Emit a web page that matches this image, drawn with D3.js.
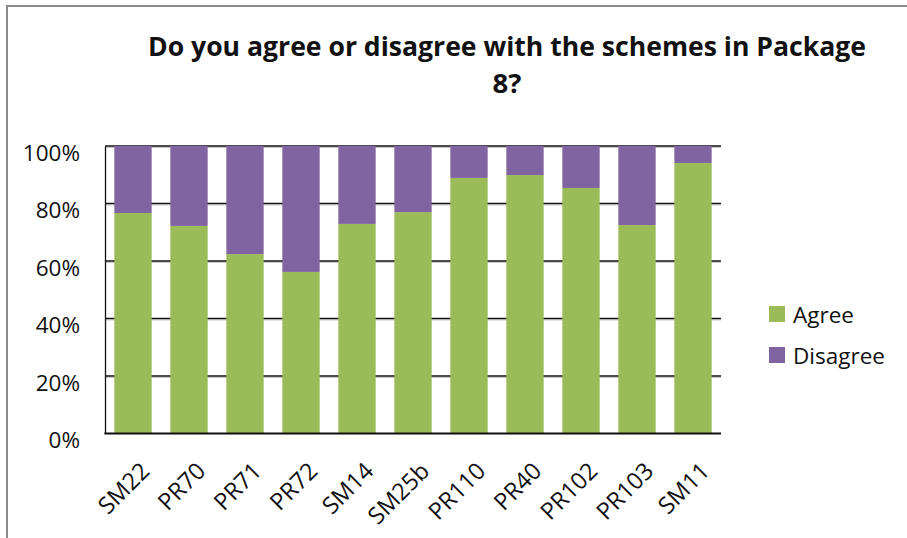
<!DOCTYPE html>
<html>
<head>
<meta charset="utf-8">
<script src="https://cdn.jsdelivr.net/npm/d3@7"></script>
<style>
  html, body { margin: 0; padding: 0; background: #fff; }
  svg { display: block; font-family: "Open Sans", "Noto Sans", sans-serif; }
</style>
</head>
<body>
<svg id="chart" width="907" height="538"></svg>
<script>
// Schemes in Package 8 and the share of respondents agreeing / disagreeing
const schemes   = ["SM22", "PR70", "PR71", "PR72", "SM14", "SM25b", "PR110", "PR40", "PR102", "PR103", "SM11"];
const agree     = [76.7, 72.2, 62.4, 56.2, 72.9, 77.0, 88.9, 89.9, 85.4, 72.5, 94.1];
const disagree  = [23.3, 27.8, 37.6, 43.8, 27.1, 23.0, 11.1, 10.1, 14.6, 27.5, 5.9];
const seriesNames = ["Agree", "Disagree"];
const yTicks    = [0, 20, 40, 60, 80, 100];
const titleLines = ["Do you agree or disagree with the schemes in Package", "8?"];

const colors = { Agree: "#9BBB59", Disagree: "#8064A2" };

const svg = d3.select("#chart");

// outer chart frame (left and top edges visible)
svg.append("path")
  .attr("d", "M7,545V6H915")
  .attr("fill", "none")
  .attr("stroke", "#8a8a8a")
  .attr("stroke-width", 2);

const plot = { left: 105, right: 721, top: 146, bottom: 433.5 };

const x = d3.scaleBand()
  .domain(schemes)
  .range([plot.left, plot.right])
  .paddingInner(1 / 3)
  .paddingOuter(1 / 6);

const y = d3.scaleLinear()
  .domain([0, 100])
  .range([plot.bottom, plot.top]);

// horizontal gridlines (dark line with a soft grey shadow)
const grid = svg.append("g");
yTicks.filter(t => t > 0).forEach(t => {
  grid.append("line")
    .attr("x1", plot.left).attr("x2", plot.right)
    .attr("y1", y(t) + 1.5).attr("y2", y(t) + 1.5)
    .attr("stroke", "#c8c8c8").attr("stroke-width", 1);
  grid.append("line")
    .attr("x1", plot.left).attr("x2", plot.right)
    .attr("y1", y(t)).attr("y2", y(t))
    .attr("stroke", "#111").attr("stroke-width", 1.6);
});

// stacked bars
const rows = schemes.map((s, i) => ({ scheme: s, Agree: agree[i], Disagree: disagree[i] }));
const stacked = d3.stack().keys(seriesNames)(rows);

svg.append("g")
  .selectAll("g")
  .data(stacked)
  .join("g")
  .attr("fill", d => colors[d.key])
  .selectAll("rect")
  .data(d => d)
  .join("rect")
  .attr("x", d => x(d.data.scheme))
  .attr("width", x.bandwidth())
  .attr("y", d => y(d[1]))
  .attr("height", d => y(d[0]) - y(d[1]));

// y axis
const yAxis = svg.append("g")
  .attr("transform", `translate(${plot.left},0)`)
  .call(d3.axisLeft(y).tickValues(yTicks).tickFormat(d => d + "%").tickSize(0).tickPadding(25));
yAxis.select(".domain").attr("stroke", "#111").attr("stroke-width", 1.3);
yAxis.selectAll("text")
  .attr("font-family", "Open Sans, sans-serif")
  .attr("font-size", 22.5)
  .attr("fill", "#111")
  .attr("dy", "0.95em")
  .attr("y", -7);

// x axis baseline
svg.append("line")
  .attr("x1", plot.left - 0.6).attr("x2", plot.right)
  .attr("y1", plot.bottom).attr("y2", plot.bottom)
  .attr("stroke", "#111").attr("stroke-width", 2.2);

// rotated category labels
svg.append("g")
  .selectAll("text")
  .data(schemes)
  .join("text")
  .attr("transform", d => `translate(${x(d) + x.bandwidth() / 2 + 18},${plot.bottom + 39}) rotate(-45)`)
  .attr("text-anchor", "end")
  .attr("font-size", 23.5)
  .attr("fill", "#111")
  .text(d => d);

// title
const title = svg.append("g").attr("font-weight", "bold").attr("fill", "#111");
title.append("text")
  .attr("x", 507).attr("y", 56)
  .attr("text-anchor", "middle")
  .attr("font-size", 27.5)
  .attr("textLength", 718)
  .attr("lengthAdjust", "spacingAndGlyphs")
  .text(titleLines[0]);
title.append("text")
  .attr("x", 507).attr("y", 93)
  .attr("text-anchor", "middle")
  .attr("font-size", 27.5)
  .text(titleLines[1]);

// legend
const legend = svg.append("g").attr("transform", "translate(769,306)");
seriesNames.forEach((name, i) => {
  const g = legend.append("g").attr("transform", `translate(0,${i * 41})`);
  g.append("rect").attr("width", 16).attr("height", 16).attr("fill", colors[name]);
  g.append("text")
    .attr("x", 24).attr("y", 16.5)
    .attr("font-size", 22.5)
    .attr("fill", "#111")
    .text(name);
});
</script>
</body>
</html>
